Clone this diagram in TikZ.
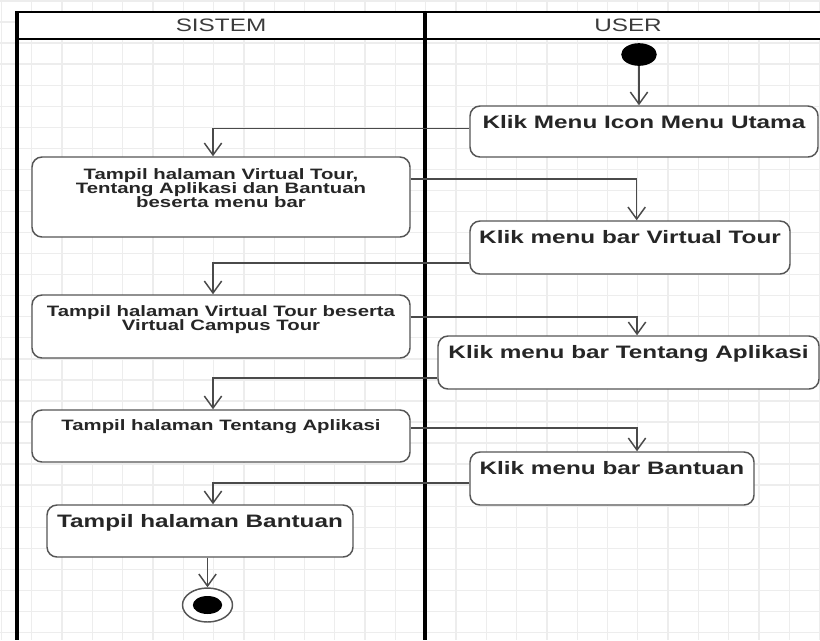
\documentclass[tikz,border=0pt]{standalone}
\usepackage{fontspec}
\setmainfont{Liberation Sans}[FakeStretch=1.35]
\usetikzlibrary{arrows.meta,shapes.geometric}

\definecolor{gridgray}{HTML}{EDEDED}
\definecolor{boxgray}{HTML}{555555}
\definecolor{flowgray}{HTML}{4A4A4A}
\definecolor{textdark}{HTML}{262626}
\definecolor{headtext}{HTML}{3C3C3C}

% activity label: top-aligned inside a box of the given width and height,
% first baseline at #3 below the top edge
\newcommand\acttext[5]{%
  \parbox[c][#2][t]{#1}{\centering #5%
    \lineskiplimit=-\maxdimen\lineskip=0pt
    \rule{0pt}{#3}#4\par}}
\newcommand\bigact{\fontsize{13.5pt}{14pt}\selectfont}
\newcommand\smallact{\fontsize{11.3pt}{10.5pt}\selectfont}

\tikzset{
  gridline/.style={draw=gridgray, line width=1pt},
  laneline/.style={draw=black, line width=2.4pt},
  headline/.style={draw=black, line width=1.8pt},
  lanehead/.style={text=headtext, font=\fontsize{13.5pt}{14pt}\selectfont, inner sep=0pt},
  actbox/.style={draw=boxgray, line width=1.1pt, fill=white, rounded corners=7.5pt,
    inner sep=0pt, text=textdark, font=\bfseries},
  flow/.style={draw=flowgray, line width=1.1pt,
    -{Straight Barb[length=9pt,width=13pt]}},
}

\begin{document}
\begin{tikzpicture}[x=0.75pt,y=-0.75pt]
\useasboundingbox (0,0) rectangle (820,640);
\clip (0,0) rectangle (820,640);

% background grid
\foreach \i in {0,...,27}
  \draw[gridline] ({1.5+30.3*\i},0) -- ({1.5+30.3*\i},640);
\foreach \j in {0,...,30}
  \draw[gridline] (0,{1+21.05*\j}) -- (820,{1+21.05*\j});

% swimlanes
\fill[white] (17,12) rectangle (831,39);
\draw[headline] (17,12) -- (831,12);
\draw[headline] (17,39) -- (831,39);
\draw[laneline] (17,11) -- (17,640);
\draw[laneline] (425,11) -- (425,640);
\draw[laneline] (831,11) -- (831,640);
\node[lanehead] (hsistem) at (221,25.5) {SISTEM};
\node[lanehead] (huser) at (628,25.5) {USER};

% start and end
\node[ellipse, fill=black, minimum width=26.7pt, minimum height=17pt, inner sep=0pt]
  (start) at (639,54.5) {};
\node[ellipse, draw=boxgray, line width=1.1pt, fill=white, minimum width=37.5pt,
  minimum height=25.5pt, inner sep=0pt,
  path picture={\fill[black] (path picture bounding box.center)
    ellipse [x radius=11pt, y radius=6.75pt];}]
  (finish) at (207.5,605) {};

% activities
\node[actbox] (b1) at (644,131.5)
  {\acttext{261pt}{38.25pt}{16.5pt}{Klik Menu Icon Menu Utama}{\bigact}};
\node[actbox] (b2) at (221,197)
  {\acttext{283.5pt}{60pt}{16.5pt}{Tampil halaman Virtual Tour,\\Tentang Aplikasi dan Bantuan\\beserta menu bar}{\smallact}};
\node[actbox] (b3) at (630,247.5)
  {\acttext{240pt}{39.75pt}{17pt}{Klik menu bar Virtual Tour}{\bigact}};
\node[actbox] (b4) at (221,326.5)
  {\acttext{283.5pt}{47.25pt}{15.75pt}{Tampil halaman Virtual Tour beserta\\Virtual Campus Tour}{\smallact}};
\node[actbox] (b5) at (628.5,362.5)
  {\acttext{285.75pt}{39.75pt}{17pt}{Klik menu bar Tentang Aplikasi}{\bigact}};
\node[actbox] (b6) at (221,436)
  {\acttext{283.5pt}{39pt}{15pt}{Tampil halaman Tentang Aplikasi}{\smallact}};
\node[actbox] (b7) at (612,478.5)
  {\acttext{213pt}{39.75pt}{17pt}{Klik menu bar Bantuan}{\bigact}};
\node[actbox] (b8) at (200,531)
  {\acttext{229.5pt}{39pt}{17pt}{Tampil halaman Bantuan}{\bigact}};

% control flow
\draw[flow] (start) -- (start |- b1.north);
\draw[flow] ([yshift=2.25pt]b1.west) -| ([xshift=-6pt]b2.north);
\draw[flow] ([yshift=13.5pt]b2.east) -| ([xshift=5pt]b3.north);
\draw[flow] ([yshift=-11.6pt]b3.west) -| ([xshift=-6pt]b4.north);
\draw[flow] ([yshift=7.1pt]b4.east) -| ([xshift=6.4pt]b5.north);
\draw[flow] ([yshift=-11.6pt]b5.west) -| ([xshift=-6pt]b6.north);
\draw[flow] ([yshift=6pt]b6.east) -| ([xshift=18.75pt]b7.north);
\draw[flow] ([yshift=-3.4pt]b7.west) -| ([xshift=9.75pt]b8.north);
\draw[flow] (finish |- b8.south) -- (finish);
\end{tikzpicture}
\end{document}
